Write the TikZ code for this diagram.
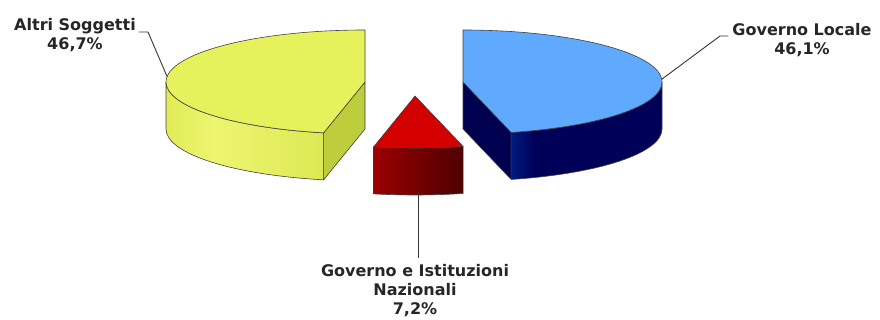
\documentclass[tikz,border=0pt]{standalone}
\usepackage{fontspec}
\setmainfont{DejaVu Sans}
\usetikzlibrary{calc}
\definecolor{yTop}{RGB}{230,242,92}
\definecolor{yCut}{RGB}{190,205,60}
\definecolor{ySideA}{RGB}{224,236,86}
\definecolor{ySideB}{RGB}{238,245,112}
\definecolor{ySideC}{RGB}{214,228,72}
\definecolor{bTop}{RGB}{95,170,255}
\definecolor{bCut}{RGB}{0,0,80}
\definecolor{bSideA}{RGB}{0,80,210}
\definecolor{bSideB}{RGB}{0,0,88}
\definecolor{rTop}{RGB}{212,0,0}
\definecolor{rSideA}{RGB}{155,0,0}
\definecolor{rSideB}{RGB}{78,0,0}
\pgfdeclarehorizontalshading{ySide}{100bp}{color(0bp)=(ySideA); color(25bp)=(ySideA); color(37bp)=(ySideB); color(75bp)=(ySideC); color(100bp)=(ySideC)}
\pgfdeclarehorizontalshading{bSide}{100bp}{color(0bp)=(bSideA); color(25bp)=(bSideA); color(43bp)=(bSideB); color(100bp)=(bSideB)}
\pgfdeclarehorizontalshading{rSide}{100bp}{color(0bp)=(rSideA); color(25bp)=(rSideA); color(75bp)=(rSideB); color(100bp)=(rSideB)}
\begin{document}
\begin{tikzpicture}[x=1pt,y=1pt,
    face/.style={draw=black!75,line width=0.6pt,line join=round},
    lbl/.style={font=\fontsize{16}{19}\selectfont\bfseries,text=black!85,align=center,inner sep=0pt},
    leader/.style={draw=black!80,line width=0.9pt}]
        \useasboundingbox (0,0) rectangle (880,320);
        \coordinate (Y) at (365,238);
        \coordinate (B) at (463,238);
        \coordinate (R) at (415,224);
        % Altri Soggetti
        \fill[yCut,face] (Y) -- ++(258:199 and 52) -- ++(0,-47) -- ($(Y)+(0,-47)$) -- cycle;
        \shade[face,shading=ySide] (Y) ++(180:199 and 52) arc[start angle=180,end angle=258,x radius=199,y radius=52]
            -- ++(0,-47) arc[start angle=258,end angle=180,x radius=199,y radius=52] -- cycle;
        \fill[yTop,face] (Y) -- ++(90:199 and 52) arc[start angle=90,end angle=258,x radius=199,y radius=52] -- cycle;
        % Governo Locale
        \fill[bCut,face] (B) -- ++(-76:199 and 52) -- ++(0,-47) -- ($(B)+(0,-47)$) -- cycle;
        \shade[face,shading=bSide] (B) ++(-76:199 and 52) arc[start angle=-76,end angle=0,x radius=199,y radius=52]
            -- ++(0,-47) arc[start angle=0,end angle=-76,x radius=199,y radius=52] -- cycle;
        \fill[bTop,face] (B) -- ++(90:199 and 52) arc[start angle=90,end angle=-76,x radius=199,y radius=52] -- cycle;
        % Governo e Istituzioni Nazionali
        \shade[face,shading=rSide] (R) ++(258:199 and 52) arc[start angle=258,end angle=284,x radius=199,y radius=52]
            -- ++(0,-47) arc[start angle=284,end angle=258,x radius=199,y radius=52] -- cycle;
        \fill[rTop,face] (R) -- ++(258:199 and 52) arc[start angle=258,end angle=284,x radius=199,y radius=52] -- cycle;
        % labels
        \node[lbl,anchor=base] (altri) at (75,270) {Altri Soggetti\\46,7\%};
        \node[lbl,anchor=base] (locale) at (802,265) {Governo Locale\\46,1\%};
        \node[lbl,anchor=base] (naz) at (415,5) {Governo e Istituzioni\\Nazionali\\7,2\%};
        \coordinate (yTip) at ($(Y)+(174:199 and 52)$);
        \coordinate (bTip) at ($(B)+(3:199 and 52)$);
        \coordinate (rTip) at ($(R)+(271:199 and 52)+(0,-47)$);
        \draw[leader] ([xshift=3pt]altri.east |- 0,288) -- (148,288) -- (yTip);
        \draw[leader] (bTip) -- (720,284) -- ([xshift=-4pt]locale.west |- 0,284);
        \draw[leader] (rTip) -- ([yshift=7pt]naz.north -| rTip);
    \end{tikzpicture}
\end{document}
